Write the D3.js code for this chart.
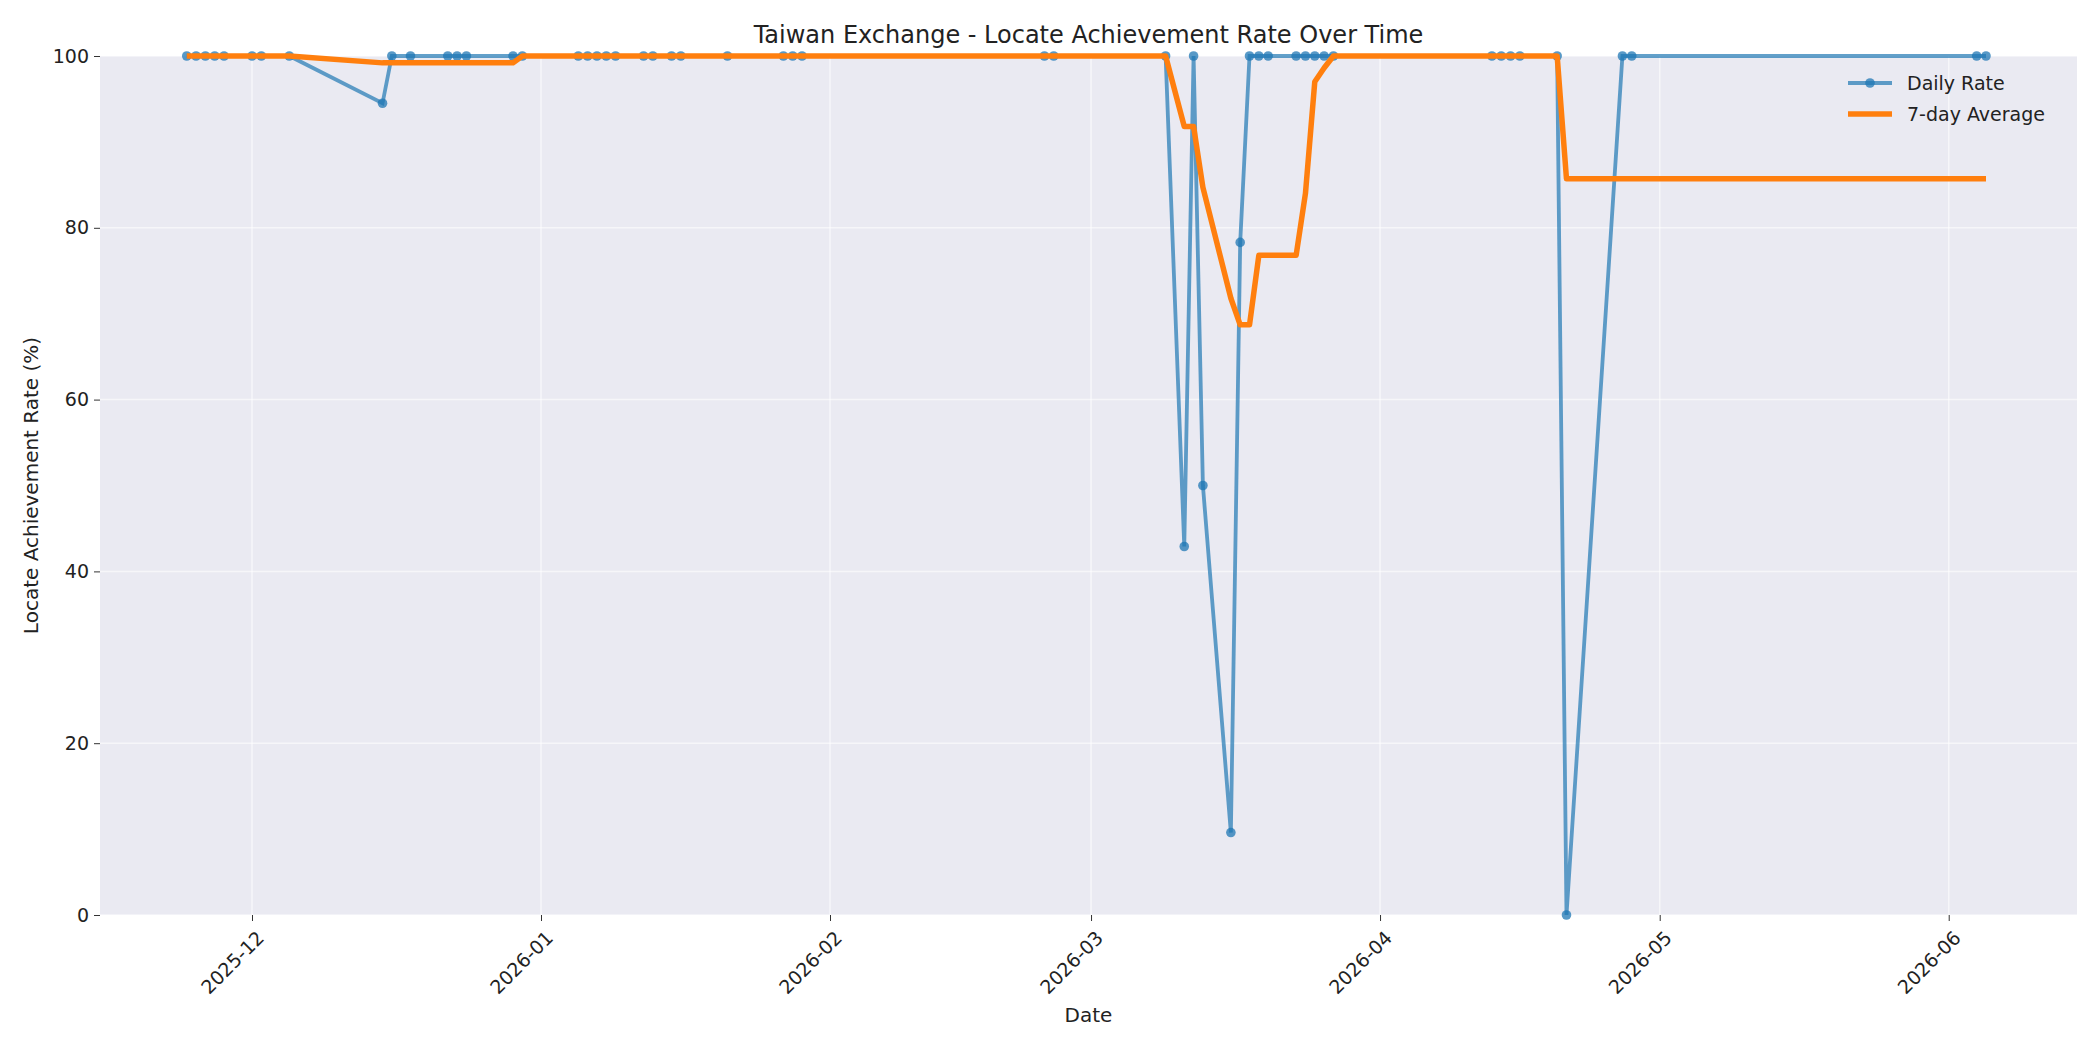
<!DOCTYPE html>
<html><head><meta charset="utf-8">
<script src="https://cdn.jsdelivr.net/npm/d3@7"></script>
<style>body{margin:0;background:#fff;font-family:"DejaVu Sans",sans-serif}</style>
</head><body>
<svg width="2100" height="1050"></svg>
<script>
let dates = ['2025-11-24','2025-11-25','2025-11-26','2025-11-27','2025-11-28','2025-12-01','2025-12-02','2025-12-05',
  '2025-12-15','2025-12-16','2025-12-18','2025-12-22','2025-12-23','2025-12-24','2025-12-29','2025-12-30',
  '2026-01-05','2026-01-06','2026-01-07','2026-01-08','2026-01-09','2026-01-12','2026-01-13','2026-01-15','2026-01-16',
  '2026-01-21','2026-01-27','2026-01-28','2026-01-29','2026-02-24','2026-02-25',
  '2026-03-09','2026-03-11','2026-03-12','2026-03-13','2026-03-16','2026-03-17','2026-03-18','2026-03-19','2026-03-20',
  '2026-03-23','2026-03-24','2026-03-25','2026-03-26','2026-03-27',
  '2026-04-13','2026-04-14','2026-04-15','2026-04-16','2026-04-20','2026-04-21','2026-04-27','2026-04-28',
  '2026-06-04','2026-06-05'];
let dailyRate = [100,100,100,100,100,100,100,100,
  94.5,100,100,100,100,100,100,100,
  100,100,100,100,100,100,100,100,100,
  100,100,100,100,100,100,
  100,42.9,100,50,9.6,78.3,100,100,100,
  100,100,100,100,100,
  100,100,100,100,100,0,100,100,
  100,100];
let avgRate = [100,100,100,100,100,100,100,100,
  99.2,99.2,99.2,99.2,99.2,99.2,99.2,100,
  100,100,100,100,100,100,100,100,100,
  100,100,100,100,100,100,
  100,91.8,91.8,84.7,71.8,68.7,68.7,76.8,76.8,
  76.8,84.0,97.0,98.6,100,
  100,100,100,100,100,85.7,85.7,85.7,
  85.7,85.7];
let monthTicks = ['2025-12-01','2026-01-01','2026-02-01','2026-03-01','2026-04-01','2026-05-01','2026-06-01'];
let yTicks = [0,20,40,60,80,100];

let parse = d3.utcParse('%Y-%m-%d');
let rows = dates.map((d, i) => ({date: parse(d), rate: dailyRate[i], avg: avgRate[i]}));

let svg = d3.select('svg');
let x0 = 100, x1 = 2077, y0 = 915, y1 = 56;

// month ticks at x=252 (Dec) and x=541 (Jan) as in the reference
let k = (541 - 252) / (parse('2026-01-01') - parse('2025-12-01'));
let t0 = +parse('2025-12-01') - (252 - x0) / k;
let xScale = d3.scaleUtc().domain([new Date(t0), new Date(t0 + (x1 - x0) / k)]).range([x0, x1]);
let yScale = d3.scaleLinear().domain([0, 100]).range([y0, y1]);

svg.append('rect').attr('x', x0).attr('y', y1).attr('width', x1 - x0).attr('height', y0 - y1).attr('fill', '#eaeaf2');

let grid = svg.append('g');
monthTicks.forEach(t => grid.append('line').attr('x1', xScale(parse(t))).attr('x2', xScale(parse(t)))
  .attr('y1', y1).attr('y2', y0).attr('stroke', '#fff').attr('stroke-width', 1.5).attr('opacity', 0.6));
yTicks.forEach(t => grid.append('line').attr('x1', x0).attr('x2', x1)
  .attr('y1', yScale(t)).attr('y2', yScale(t)).attr('stroke', '#fff').attr('stroke-width', 1.5).attr('opacity', 0.6));

let xAxis = svg.append('g').attr('transform', 'translate(0,' + y0 + ')')
  .call(d3.axisBottom(xScale).tickValues(monthTicks.map(parse)).tickFormat(d3.utcFormat('%Y-%m')).tickSize(6).tickPadding(5));
xAxis.selectAll('text').attr('font-size', 19).attr('fill', '#222').attr('font-family', 'DejaVu Sans')
  .attr('text-anchor', 'end').attr('transform', 'rotate(-45) translate(-8,-2)').attr('dy', '0.9em');
let yAxis = svg.append('g').attr('transform', 'translate(' + x0 + ',0)')
  .call(d3.axisLeft(yScale).tickValues(yTicks).tickSize(6).tickPadding(5));
yAxis.selectAll('text').attr('font-size', 19).attr('fill', '#222').attr('font-family', 'DejaVu Sans');
svg.selectAll('.domain').remove();
svg.selectAll('.tick line').attr('stroke', '#333');

svg.append('clipPath').attr('id', 'clip').append('rect')
  .attr('x', x0).attr('y', y1 - 6).attr('width', x1 - x0).attr('height', y0 - y1 + 12);
let plot = svg.append('g').attr('clip-path', 'url(#clip)');

let dailyLine = d3.line().x(d => xScale(d.date)).y(d => yScale(d.rate));
let avgLine = d3.line().x(d => xScale(d.date)).y(d => yScale(d.avg));
plot.append('path').datum(rows).attr('d', dailyLine).attr('fill', 'none')
  .attr('stroke', '#1f77b4').attr('stroke-opacity', 0.7).attr('stroke-width', 3.8);
plot.selectAll('circle').data(rows).join('circle')
  .attr('cx', d => xScale(d.date)).attr('cy', d => yScale(d.rate)).attr('r', 4.8)
  .attr('fill', '#1f77b4').attr('fill-opacity', 0.75);
plot.append('path').datum(rows).attr('d', avgLine).attr('fill', 'none')
  .attr('stroke', '#ff7f0e').attr('stroke-width', 5.5).attr('stroke-linejoin', 'round');

svg.append('text').attr('x', (x0 + x1) / 2).attr('y', 43).attr('text-anchor', 'middle')
  .attr('font-size', 24).attr('fill', '#222').text('Taiwan Exchange - Locate Achievement Rate Over Time');
svg.append('text').attr('x', (x0 + x1) / 2).attr('y', 1022).attr('text-anchor', 'middle')
  .attr('font-size', 20).attr('fill', '#222').text('Date');
svg.append('text').attr('transform', 'translate(38,' + (y0 + y1) / 2 + ') rotate(-90)').attr('text-anchor', 'middle')
  .attr('font-size', 20).attr('fill', '#222').text('Locate Achievement Rate (%)');

// legend
let lg = svg.append('g').attr('transform', 'translate(1848,83)');
lg.append('line').attr('x1', 0).attr('x2', 44).attr('y1', 0).attr('y2', 0).attr('stroke', '#1f77b4').attr('stroke-opacity', 0.7).attr('stroke-width', 3.8);
lg.append('circle').attr('cx', 22).attr('cy', 0).attr('r', 4.8).attr('fill', '#1f77b4').attr('fill-opacity', 0.75);
lg.append('text').attr('x', 59).attr('y', 7).attr('font-size', 19).attr('fill', '#222').text('Daily Rate');
lg.append('line').attr('x1', 0).attr('x2', 44).attr('y1', 31).attr('y2', 31).attr('stroke', '#ff7f0e').attr('stroke-width', 5.5);
lg.append('text').attr('x', 59).attr('y', 38).attr('font-size', 19).attr('fill', '#222').text('7-day Average');
</script>
</body></html>
